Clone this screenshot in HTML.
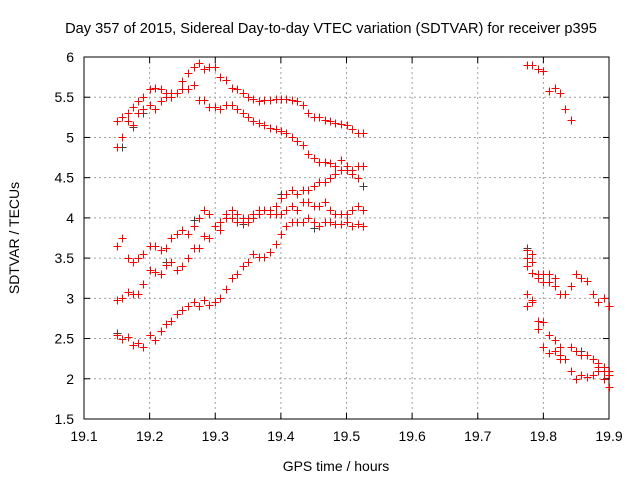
<!DOCTYPE html>
<html><head><meta charset="utf-8"><style>
body{margin:0;background:#fff;}
svg{display:block;font-family:"Liberation Sans",sans-serif;}
</style></head><body>
<svg id="chart" width="640" height="480" viewBox="0 0 640 480">
<rect width="640" height="480" fill="#fff"/>
<text x="331" y="33" text-anchor="middle" font-size="14.6" fill="#000">Day 357 of 2015, Sidereal Day-to-day VTEC variation (SDTVAR) for receiver p395</text>
<text x="336" y="471" text-anchor="middle" font-size="14" fill="#000">GPS time / hours</text>
<text transform="translate(19,238) rotate(-90)" text-anchor="middle" font-size="14" fill="#000">SDTVAR / TECUs</text>
<g id="grid"></g>
<g id="axes"></g>
<g id="marks"></g>
</svg>
<script>
const xTicks=[19.1,19.2,19.3,19.4,19.5,19.6,19.7,19.8,19.9];
const xTickLabels=["19.1","19.2","19.3","19.4","19.5","19.6","19.7","19.8","19.9"];
const yTicks=[1.5,2,2.5,3,3.5,4,4.5,5,5.5,6];
const yTickLabels=["1.5","2","2.5","3","3.5","4","4.5","5","5.5","6"];
const tA=[19.15,19.158,19.167,19.175,19.183,19.19,19.2,19.208,19.217,19.225,19.233,19.242,19.25,19.258,19.267,19.275,19.283,19.29,19.3,19.308,19.317,19.325,19.333,19.342,19.35,19.358,19.367,19.375,19.383,19.392,19.4,19.408,19.417,19.425,19.433,19.442,19.45,19.458,19.467,19.475,19.483,19.492,19.5,19.508,19.517,19.525];
const vA=[5.2,5.25,5.3,5.38,5.45,5.5,5.6,5.62,5.6,5.55,5.5,5.55,5.7,5.8,5.88,5.92,5.85,5.88,5.88,5.75,5.72,5.62,5.6,5.55,5.5,5.48,5.45,5.47,5.47,5.48,5.48,5.48,5.47,5.45,5.4,5.3,5.25,5.25,5.22,5.2,5.18,5.17,5.15,5.1,5.05,5.05];
const vB=[4.88,5.0,5.2,5.15,5.3,5.35,5.4,5.35,5.45,5.5,5.55,5.55,5.6,5.6,5.65,5.47,5.47,5.38,5.38,5.35,5.4,5.4,5.35,5.3,5.25,5.2,5.18,5.15,5.12,5.1,5.08,5.05,5.0,4.95,4.9,4.8,4.75,4.7,4.7,4.68,4.65,4.72,4.6,4.55,4.65,4.65];
const vC=[3.65,3.75,3.5,3.45,3.5,3.55,3.65,3.65,3.6,3.62,3.75,3.8,3.85,3.8,3.9,4.0,4.1,4.05,3.9,3.85,4.05,4.1,4.05,4.0,3.95,4.0,4.1,4.1,4.05,4.05,4.05,4.1,4.15,4.1,4.2,4.2,4.15,4.15,4.2,4.1,4.05,4.05,4.05,4.1,4.15,4.1];
const vD=[2.98,3.0,3.08,3.05,3.05,3.18,3.35,3.33,3.3,3.42,3.45,3.35,3.4,3.5,3.62,3.62,3.78,3.75,3.9,3.95,4.0,4.0,3.95,3.95,4.0,4.05,4.05,4.1,4.1,4.15,4.25,4.3,4.35,4.3,4.35,4.35,4.4,4.45,4.45,4.5,4.55,4.6,4.65,4.6,4.5,4.65];
const vE=[2.55,2.5,2.52,2.42,2.45,2.4,2.55,2.48,2.6,2.68,2.72,2.8,2.85,2.9,2.95,2.9,2.98,2.92,2.95,3.0,3.12,3.25,3.3,3.4,3.45,3.55,3.52,3.52,3.58,3.68,3.8,3.9,3.95,3.95,3.95,4.0,3.95,3.9,3.95,3.95,3.92,3.92,3.95,3.9,3.92,3.9];
const tR1=[19.775,19.783,19.792,19.8,19.808,19.817,19.825,19.833,19.842];
const vR1=[5.9,5.9,5.85,5.83,5.58,5.62,5.55,5.35,5.22];
const tR2=[19.775,19.775,19.783,19.783,19.775,19.783,19.792,19.792,19.8,19.8,19.808,19.808,19.817,19.817,19.825,19.833,19.842,19.85,19.858,19.867,19.875,19.883,19.892,19.9];
const vR2=[3.6,3.5,3.55,3.45,3.4,3.32,3.3,3.25,3.3,3.2,3.3,3.2,3.25,3.15,3.05,3.05,3.15,3.3,3.25,3.22,3.05,2.95,3.0,2.9];
const tR3=[19.775,19.783,19.775,19.783,19.792,19.8,19.792,19.808,19.817,19.825,19.842,19.85,19.858,19.867,19.875,19.883,19.892,19.9];
const vR3=[3.05,2.98,2.9,2.95,2.72,2.7,2.62,2.55,2.48,2.4,2.4,2.35,2.3,2.3,2.25,2.2,2.15,2.1];
const tR4=[19.8,19.808,19.817,19.825,19.825,19.833,19.842,19.85,19.858,19.867,19.875,19.883,19.892,19.9,19.9,19.883,19.892];
const vR4=[2.4,2.32,2.35,2.3,2.25,2.25,2.1,2.0,2.05,2.02,2.05,2.1,2.0,1.9,2.05,2.15,2.1];
const tGray=[19.15,19.158,19.175,19.19,19.225,19.267,19.342,19.4,19.45,19.525,19.775,19.8,19.842,19.858,19.883];
const vGray=[2.57,4.88,5.13,5.3,3.45,3.97,3.92,4.3,3.88,4.4,3.62,3.2,2.1,2.35,2.2];

const X0=84,X1=609,Y0=419,Y1=57;
const xs=v=>X0+(v-19.1)/(19.9-19.1)*(X1-X0);
const ys=v=>Y0-(v-1.5)/(6-1.5)*(Y0-Y1);
const NS="http://www.w3.org/2000/svg";
function mk(tag,attrs,parent){const e=document.createElementNS(NS,tag);for(const k in attrs)e.setAttribute(k,attrs[k]);parent.appendChild(e);return e;}
const grid=document.getElementById('grid'),axes=document.getElementById('axes'),marks=document.getElementById('marks');
xTicks.forEach((t,i)=>{const x=xs(t);
 if(i>0&&i<xTicks.length-1){const g=mk('line',{x1:x,x2:x,y1:Y0,y2:Y1,stroke:'#a0a0a0','stroke-dasharray':'2,3','stroke-width':1},grid);
 
 }
 mk('line',{x1:x,x2:x,y1:Y0,y2:Y0-6,stroke:'#000'},axes);
 mk('line',{x1:x,x2:x,y1:Y1,y2:Y1+6,stroke:'#000'},axes);
 const l=mk('text',{x:x,y:Y0+22,'text-anchor':'middle','font-size':14},axes);l.textContent=xTickLabels[i];
 
 
});
yTicks.forEach((t,i)=>{const y=ys(t);
 if(i>0&&i<yTicks.length-1){const g=mk('line',{x1:X0,x2:X1,y1:y,y2:y,stroke:'#a0a0a0','stroke-dasharray':'2,3','stroke-width':1},grid);
 
 }
 mk('line',{x1:X0,x2:X0+6,y1:y,y2:y,stroke:'#000'},axes);
 mk('line',{x1:X1,x2:X1-6,y1:y,y2:y,stroke:'#000'},axes);
 const l=mk('text',{x:X0-10,y:y+5,'text-anchor':'end','font-size':14},axes);l.textContent=yTickLabels[i];
 
 
});
mk('rect',{x:X0,y:Y1,width:X1-X0,height:Y0-Y1,fill:'none',stroke:'#000','stroke-width':1},axes);
function plus(tv,vv,color,name){for(let i=0;i<tv.length;i++){const x=Math.round(xs(tv[i]))+0.5,y=Math.round(ys(vv[i]))+0.5;
 const p=mk('path',{d:`M${x-4},${y}H${x+4}M${x},${y-4}V${y+4}`,stroke:color,'stroke-width':1,fill:'none'},marks);
 
 }}
plus(tGray,vGray,'#404040','reference-point');
[vA,vB,vC,vD,vE].forEach(v=>plus(tA,v,'#ff0000','sdtvar-point'));
plus(tR1,vR1,'#ff0000','sdtvar-point');
plus(tR2,vR2,'#ff0000','sdtvar-point');
plus(tR3,vR3,'#ff0000','sdtvar-point');
plus(tR4,vR4,'#ff0000','sdtvar-point');
</script>
</body></html>
